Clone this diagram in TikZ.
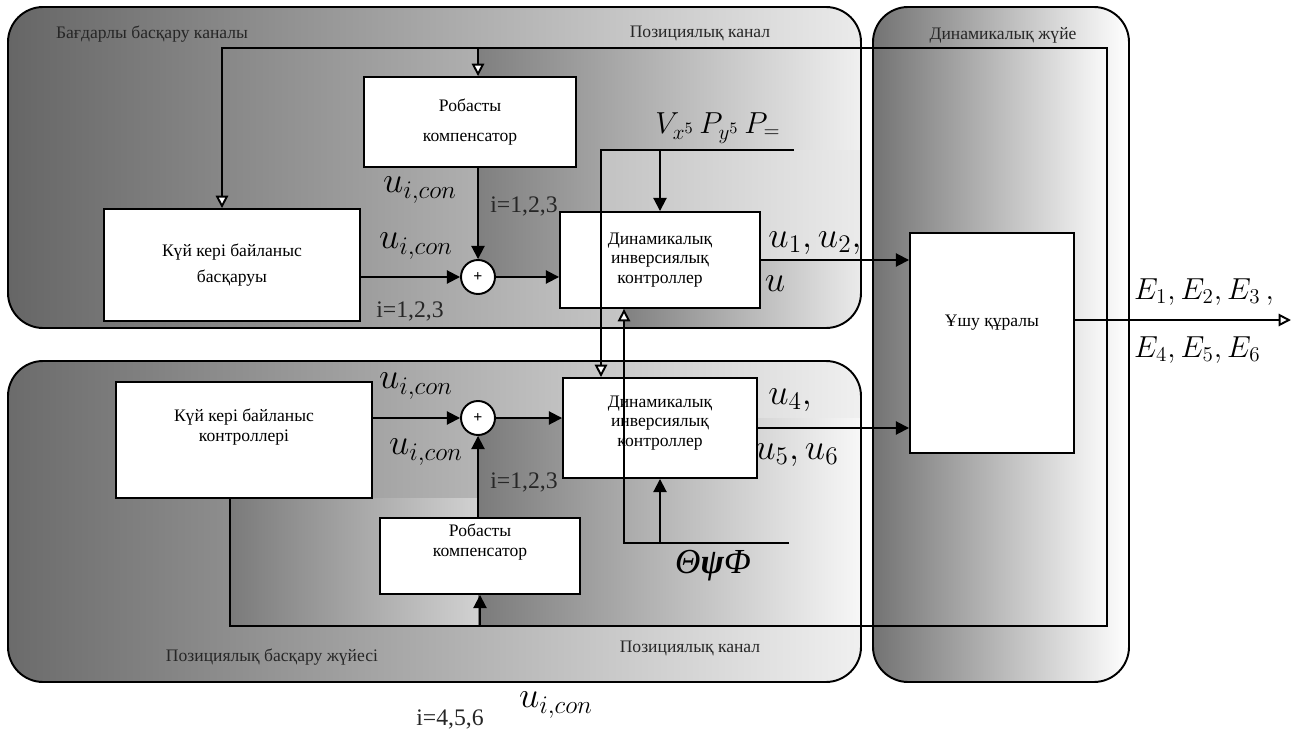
\documentclass[tikz,border=0pt]{standalone}
\usepackage{fontspec}
\setmainfont{Liberation Serif}
\usetikzlibrary{arrows.meta,calc}
\begin{document}
\begin{tikzpicture}[x=0.02cm,y=-0.02cm,
  box/.style={draw, fill=white, line width=1.1pt, inner sep=0pt, align=center, font=\fontsize{10}{15}\selectfont},
  sumn/.style={draw, fill=white, circle, line width=1.1pt, inner sep=0pt, minimum size=34*0.02cm, font=\bfseries\fontsize{9}{10}\selectfont},
  pframe/.style={draw, line width=1.1pt, rounded corners=20pt},
  ln/.style={line width=1.1pt},
  arr/.style={ln, -{Triangle[length=7.5pt,width=7.5pt]}},
  oarr/.style={ln, -{Triangle[open,length=7pt,width=7pt,fill=white]}},
  ttl/.style={font=\fontsize{10}{12}\selectfont, text=black!85},
  btxt/.style={align=center, font=\fontsize{10}{11}\selectfont},
  idx/.style={font=\fontsize{13.5}{15}\selectfont, text=black!85},
  ucon/.style={font=\fontsize{20}{24}\selectfont},
  elab/.style={font=\fontsize{17.5}{20}\selectfont},
]
\useasboundingbox (0,0) rectangle (1296,740);

% ---------- panels ----------
\shade[rounded corners=20pt, left color=black!60, right color=black!8] (8,7) rectangle (861,328);
\begin{scope}
  \clip[rounded corners=20pt] (8,7) rectangle (861,328);
  \shade[left color=black!50, right color=black!6] (478,48) -- (861,48) -- (861,150) -- (601,150) -- (601,277) -- (478,277) -- cycle;
  \shade[left color=black!50, right color=black!8] (623,308) -- (760,308) -- (760,260) -- (861,260) -- (861,328) -- (623,328) -- cycle;
\end{scope}
\draw[pframe] (8,7) rectangle (861,328);

\shade[rounded corners=20pt, left color=black!58, right color=black!6] (8,361) rectangle (861,682);
\begin{scope}
  \clip[rounded corners=20pt] (8,361) rectangle (861,682);
  \shade[left color=black!52, right color=black!18] (230,498) rectangle (478,626);
  \shade[left color=black!52, right color=black!3] (478,418) rectangle (861,626);
\end{scope}
\draw[pframe] (8,361) rectangle (861,682);

\shade[rounded corners=20pt, left color=black!55, right color=white] (873,7) rectangle (1129,682);
\begin{scope}
  \clip[rounded corners=20pt] (873,7) rectangle (1129,682);
  \shade[left color=black!55, right color=black!2] (873,48) rectangle (1107,626);
\end{scope}
\draw[pframe] (873,7) rectangle (1129,682);

% ---------- panel titles ----------
\node[ttl] (t1) at (152,34) {Бағдарлы басқару каналы};
\node[ttl] (t2) at (700,33) {Позициялық канал};
\node[ttl] (t3) at (1003,35) {Динамикалық жүйе};
\node[ttl] (t4) at (272,657) {Позициялық басқару жүйесі};
\node[ttl] (t5) at (690,648) {Позициялық канал};

% ---------- coordinates ----------
\coordinate (fbA) at (230,626);
\coordinate (fbB) at (1107,626);
\coordinate (fbC) at (1107,48);
\coordinate (fbD) at (222,48);
\coordinate (vxL) at (601,150);
\coordinate (vxR) at (794,150);
\coordinate (thL) at (624,543);
\coordinate (thR) at (789,543);
\coordinate (out) at (1291,320);

% ---------- boxes ----------
\node[box, minimum width=256*0.02cm, minimum height=112*0.02cm] (kkb1) at (232,265) {Күй кері байланыс\\басқаруы};
\node[box, minimum width=212*0.02cm, minimum height=90*0.02cm, font=\fontsize{10}{17}\selectfont] (rc1) at (470,122) {Робасты\\компенсатор};
\node[box, minimum width=200*0.02cm, minimum height=96*0.02cm, font=\fontsize{10}{11}\selectfont] (dic1) at (660,260) {Динамикалық\\инверсиялық\\контроллер};
\node[sumn] (sum1) at (478,277) {+};

\node[box, minimum width=256*0.02cm, minimum height=116*0.02cm] (kkb2) at (244,440) {};
\node[box, minimum width=200*0.02cm, minimum height=76*0.02cm] (rc2) at (480,556) {};
\node[box, minimum width=194*0.02cm, minimum height=100*0.02cm] (dic2) at (660,428) {};
\node[sumn] (sum2) at (478,418) {+};

\node[box, minimum width=164*0.02cm, minimum height=220*0.02cm] (ush) at (992,343) {};

\node[btxt] (kkb2t) at ($(kkb2.center)+(0,-13)$) {Күй кері байланыс\\контроллері};
\node[btxt] (rc2t) at ($(rc2.center)+(0,-14)$) {Робасты\\компенсатор};
\node[btxt] (dic2t) at ($(dic2.center)+(0,-5)$) {Динамикалық\\инверсиялық\\контроллер};
\node[btxt] (usht) at ($(ush.center)+(0,-20)$) {Ұшу құралы};

% ---------- connectors ----------
\draw[oarr] (fbA |- kkb2.south) -- (fbA) -- (fbB) -- (fbC) -- (fbD) -- (fbD |- kkb1.north);
\draw[oarr] (sum1 |- fbD) -- (sum1 |- rc1.north);
\draw[arr] (rc2.south |- fbA) -- (rc2.south);

\draw[arr] (kkb1.east |- sum1) -- (sum1.west);
\draw[arr] (rc1.south -| sum1) -- (sum1.north);
\draw[arr] (sum1.east) -- (sum1.east -| dic1.west);
\draw[arr] (dic1.east) -- (dic1.east -| ush.west);

\draw[arr] (kkb2.east |- sum2) -- (sum2.west);
\draw[arr] (rc2.north -| sum2) -- (sum2.south);
\draw[arr] (sum2.east) -- (sum2.east -| dic2.west);
\draw[arr] (dic2.east) -- (dic2.east -| ush.west);

\draw[oarr] (vxR) -- (vxL) -- (vxL |- dic2.north);
\draw[arr] (vxL -| dic1.north) -- (dic1.north);
\draw[oarr] (thR) -- (thL) -- (thL |- dic1.south);
\draw[arr] (thL -| dic2.south) -- (dic2.south);

\draw[oarr] (ush.east |- out) -- (out);

% ---------- labels ----------
\node[ucon] (l1) at (416,246) {$u_{i,con}$};
\node[idx] (l2) at (410,311) {i=1,2,3};
\node[ucon] (l3) at (420,190) {$u_{i,con}$};
\node[idx] (l4) at (524,206) {i=1,2,3};
\node[ucon] (l5) at (815,243) {$u_1,u_2,$};
\node[ucon] (l6) at (775,284) {$u$};
\node[font=\fontsize{18.5}{20}\selectfont] (l7) at (718,128) {$V_{x^5}\,P_{y^5}\,P_{=}$};

\node[ucon] (l8) at (416,386) {$u_{i,con}$};
\node[ucon] (l9) at (426,452) {$u_{i,con}$};
\node[idx] (l10) at (524,482) {i=1,2,3};
\node[ucon] (l11) at (790,400) {$u_4,$};
\node[ucon] (l12) at (797,455) {$u_5,u_6$};
\node[font=\fontsize{20}{22}\selectfont] (l13) at (713,566) {{\itshape Θ}{\bfseries\itshape ψ}{\itshape Φ}};

\node[elab, anchor=west] (e1) at (1128,292) {$E_1, E_2, E_3\,,$};
\node[elab, anchor=west] (e2) at (1128,350) {$E_4, E_5, E_6$};

\node[idx] (l14) at (450,719) {i=4,5,6};
\node[ucon] (l15) at (556,705) {$u_{i,con}$};
\end{tikzpicture}
\end{document}
